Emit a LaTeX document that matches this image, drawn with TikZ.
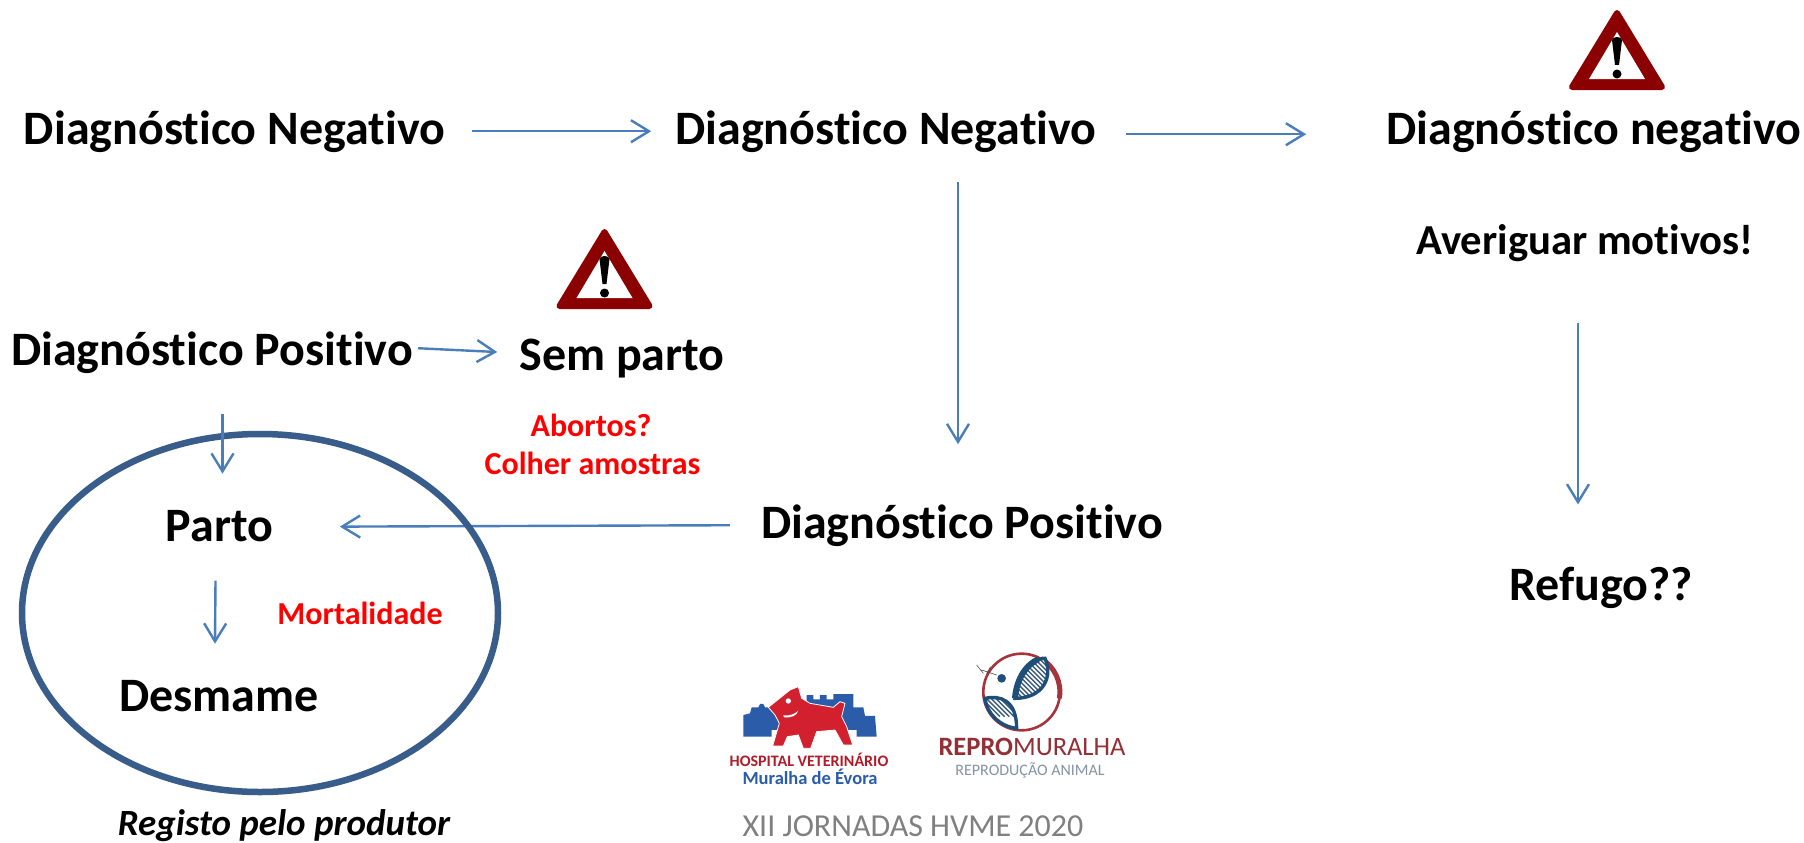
\documentclass[tikz,border=0pt]{standalone}
\usepackage{fontspec}
\setmainfont{Carlito}[Ligatures=NoCommon]
\usetikzlibrary{arrows.meta,shapes.geometric}
\definecolor{flowblue}{HTML}{4A7EBB}
\definecolor{ringblue}{HTML}{385D8A}
\definecolor{warnred}{HTML}{8B0000}
\definecolor{dogred}{HTML}{D2202F}
\definecolor{castle}{HTML}{2A5CAA}
\definecolor{logored}{HTML}{A5343C}
\definecolor{logoblue}{HTML}{1F4E79}
\tikzset{
  lab/.style={inner sep=0pt,anchor=base,font=\fontsize{48}{48}\selectfont\bfseries,text=black},
  redlab/.style={inner sep=0pt,anchor=base,font=\fontsize{32}{32}\selectfont\bfseries,text=red},
  flow/.style={draw=flowblue,line width=2.4pt,-{Straight Barb[length=18pt,width=22pt,line width=2.4pt]}},
  warnsign/.pic={
    \fill[warnred,draw=warnred,line width=6pt,line join=round] (0,3) -- (-45,77) -- (45,77) -- cycle;
    \fill[white] (0,22) -- (-28,69) -- (28,69) -- cycle;
    \fill[black] (-5,30) .. controls (-4,26) and (4,26) .. (5,30) -- (2,55) -- (-2,55) -- cycle;
    \fill[black] (0,64) circle (4.5);
  }
}
\begin{document}
\begin{tikzpicture}[x=1pt,y=-1pt]
\useasboundingbox (0,0) rectangle (1804,843);
\fill[white] (0,0) rectangle (1804,843);

% labels
\node[lab] (dn1) at (234.5,144) {Diagnóstico Negativo};
\node[lab] (dn2) at (886,144) {Diagnóstico Negativo};
\node[lab] (dn3) at (1594,144) {Diagnóstico negativo};
\node[lab,font=\fontsize{42.7}{42.7}\selectfont\bfseries] (avg) at (1585,254) {Averiguar motivos!};
\node[lab] (ref) at (1601,600) {Refugo??};
\node[lab] (dpl) at (212,365) {Diagnóstico Positivo};
\node[lab] (sem) at (622,370) {Sem parto};
\node[redlab] (abo) at (591,436) {Abortos?};
\node[redlab] (col) at (592.5,474) {Colher amostras};
\node[lab] (par) at (219.5,541) {Parto};
\node[lab] (des) at (219,711) {Desmame};
\node[redlab] (mor) at (360,624) {Mortalidade};
\node[lab] (dpc) at (962,538) {Diagnóstico Positivo};
\node[lab,font=\fontsize{37}{37}\selectfont\bfseries\itshape] (reg) at (284,835) {Registo pelo produtor};
\node[inner sep=0pt,anchor=base,font=\fontsize{32}{32}\selectfont,text=black!50] (xii) at (913,836) {XII JORNADAS HVME 2020};

% warning signs
\pic at (1617,10) {warnsign};
\pic at (604.5,229) {warnsign};

% connectors
\draw[flow] ([xshift=-31pt,yshift=0pt]dpc.west) -- ([xshift=66.5pt,yshift=-1pt]par.east);
\node[ellipse,draw=ringblue,line width=6.5pt,minimum width=476pt,minimum height=358pt,inner sep=0pt] (ring) at (260,613) {};
\draw[flow] ([xshift=26.5pt,yshift=0pt]dn1.east) -- ([xshift=-24pt,yshift=0pt]dn2.west);
\draw[flow] ([xshift=29pt,yshift=-3pt]dn2.east) -- ([xshift=-80pt,yshift=-3pt]dn3.west);
\draw[flow] ([xshift=72pt,yshift=-30pt]dn2.south) -- ([xshift=-4pt,yshift=60pt]dpc.north);
\draw[flow] ([xshift=-7pt,yshift=-62pt]avg.south) -- ([xshift=-23pt,yshift=62pt]ref.north);
\draw[flow] ([xshift=5pt,yshift=4pt]dpl.east) -- ([xshift=-22pt,yshift=6pt]sem.west);
\draw[flow] ([xshift=10.5pt,yshift=-41pt]dpl.south) -- ([xshift=3pt,yshift=36pt]par.north);
\draw[flow] ([xshift=-4pt,yshift=-39pt]par.south) -- ([xshift=-4pt,yshift=36pt]des.north);

% Hospital Veterinario logo
\begin{scope}[shift={(700,620)},x=0.3333pt,y=-0.3333pt]
  \fill[castle] (130,350) -- (130,285) -- (150,280) -- (155,262) -- (175,262) -- (180,252) -- (190,252) -- (195,262) -- (320,262) -- (320,225) -- (340,225) -- (340,238) -- (360,238) -- (360,225) -- (380,225) -- (380,238) -- (400,238) -- (400,222) -- (460,222) -- (460,262) -- (490,262) -- (495,288) -- (525,288) -- (530,350) -- (470,350) -- (470,330) -- (215,330) -- (215,350) -- cycle;
  \fill[dogred,draw=white,line width=0.8pt,line join=round] (205,262) -- (270,210) -- (295,200) -- (305,235) -- (330,250) -- (400,262) -- (420,245) -- (435,250) -- (425,290) -- (440,320) -- (458,375) -- (430,375) -- (405,330) -- (350,335) -- (332,385) -- (310,385) -- (295,345) -- (262,350) -- (250,378) -- (218,378) -- (238,310) -- (225,285) -- cycle;
  \fill[white] (265,243) circle (8);
  \fill[white] (250,286) .. controls (270,288) and (285,282) .. (295,272) .. controls (292,285) and (275,295) .. (252,292) -- cycle;
\end{scope}
\node[inner sep=0pt,font=\fontsize{16}{16}\selectfont\bfseries,text=dogred!85!black] (hv) at (809,760) {HOSPITAL VETERINÁRIO};
\node[inner sep=0pt,font=\fontsize{18.5}{18.5}\selectfont\bfseries,text=castle] (me) at (810,777) {Muralha de Évora};

% Repromuralha logo
\begin{scope}[shift={(700,620)},x=0.3333pt,y=-0.3333pt]
  \draw[logored,line width=2.6pt] (965,216) circle (115);
  \draw[logored,line width=5pt] (1078,235) arc[start angle=10,end angle=-60,radius=115];
  \begin{scope}
    \clip (945,235) .. controls (950,150) and (1000,115) .. (1035,115) .. controls (1060,170) and (1030,235) .. cycle;
    \fill[white] (940,100) rectangle (1070,240);
    \foreach \o in {0,14,...,196} \draw[logoblue!70!gray,line width=1.4pt] (830+\o,110) -- (950+\o,230);
  \end{scope}
  \draw[logoblue,line width=3.4pt] (945,235) .. controls (950,150) and (1000,115) .. (1035,115) .. controls (1060,170) and (1030,235) .. cycle;
  \draw[logoblue,line width=6pt] (945,235) .. controls (950,170) and (985,130) .. (1015,118);
  \begin{scope}
    \clip (855,235) .. controls (900,225) and (950,240) .. (950,325) .. controls (900,320) and (860,280) .. cycle;
    \fill[white] (850,220) rectangle (955,330);
    \foreach \o in {0,14,...,196} \draw[logoblue!70!gray,line width=1.4pt] (760+\o,150) -- (900+\o,290);
  \end{scope}
  \draw[logoblue,line width=3.4pt] (855,235) .. controls (900,225) and (950,240) .. (950,325) .. controls (900,320) and (860,280) .. cycle;
  \fill[logoblue] (905,175) circle (13);
  \draw[black!70,line width=0.6pt] (890,165) -- (845,150) (830,135) -- (850,160) (860,160) -- (872,140);
\end{scope}
\node[inner sep=0pt,font=\fontsize{26.5}{26.5}\selectfont,text=logored!90!black] (rm) at (1032,747) {\textbf{REPRO}MURALHA};
\node[inner sep=0pt,font=\fontsize{16}{16}\selectfont,text=logoblue!50!gray!70] (ra) at (1030,770) {REPRODUÇÃO ANIMAL};
\end{tikzpicture}
\end{document}
